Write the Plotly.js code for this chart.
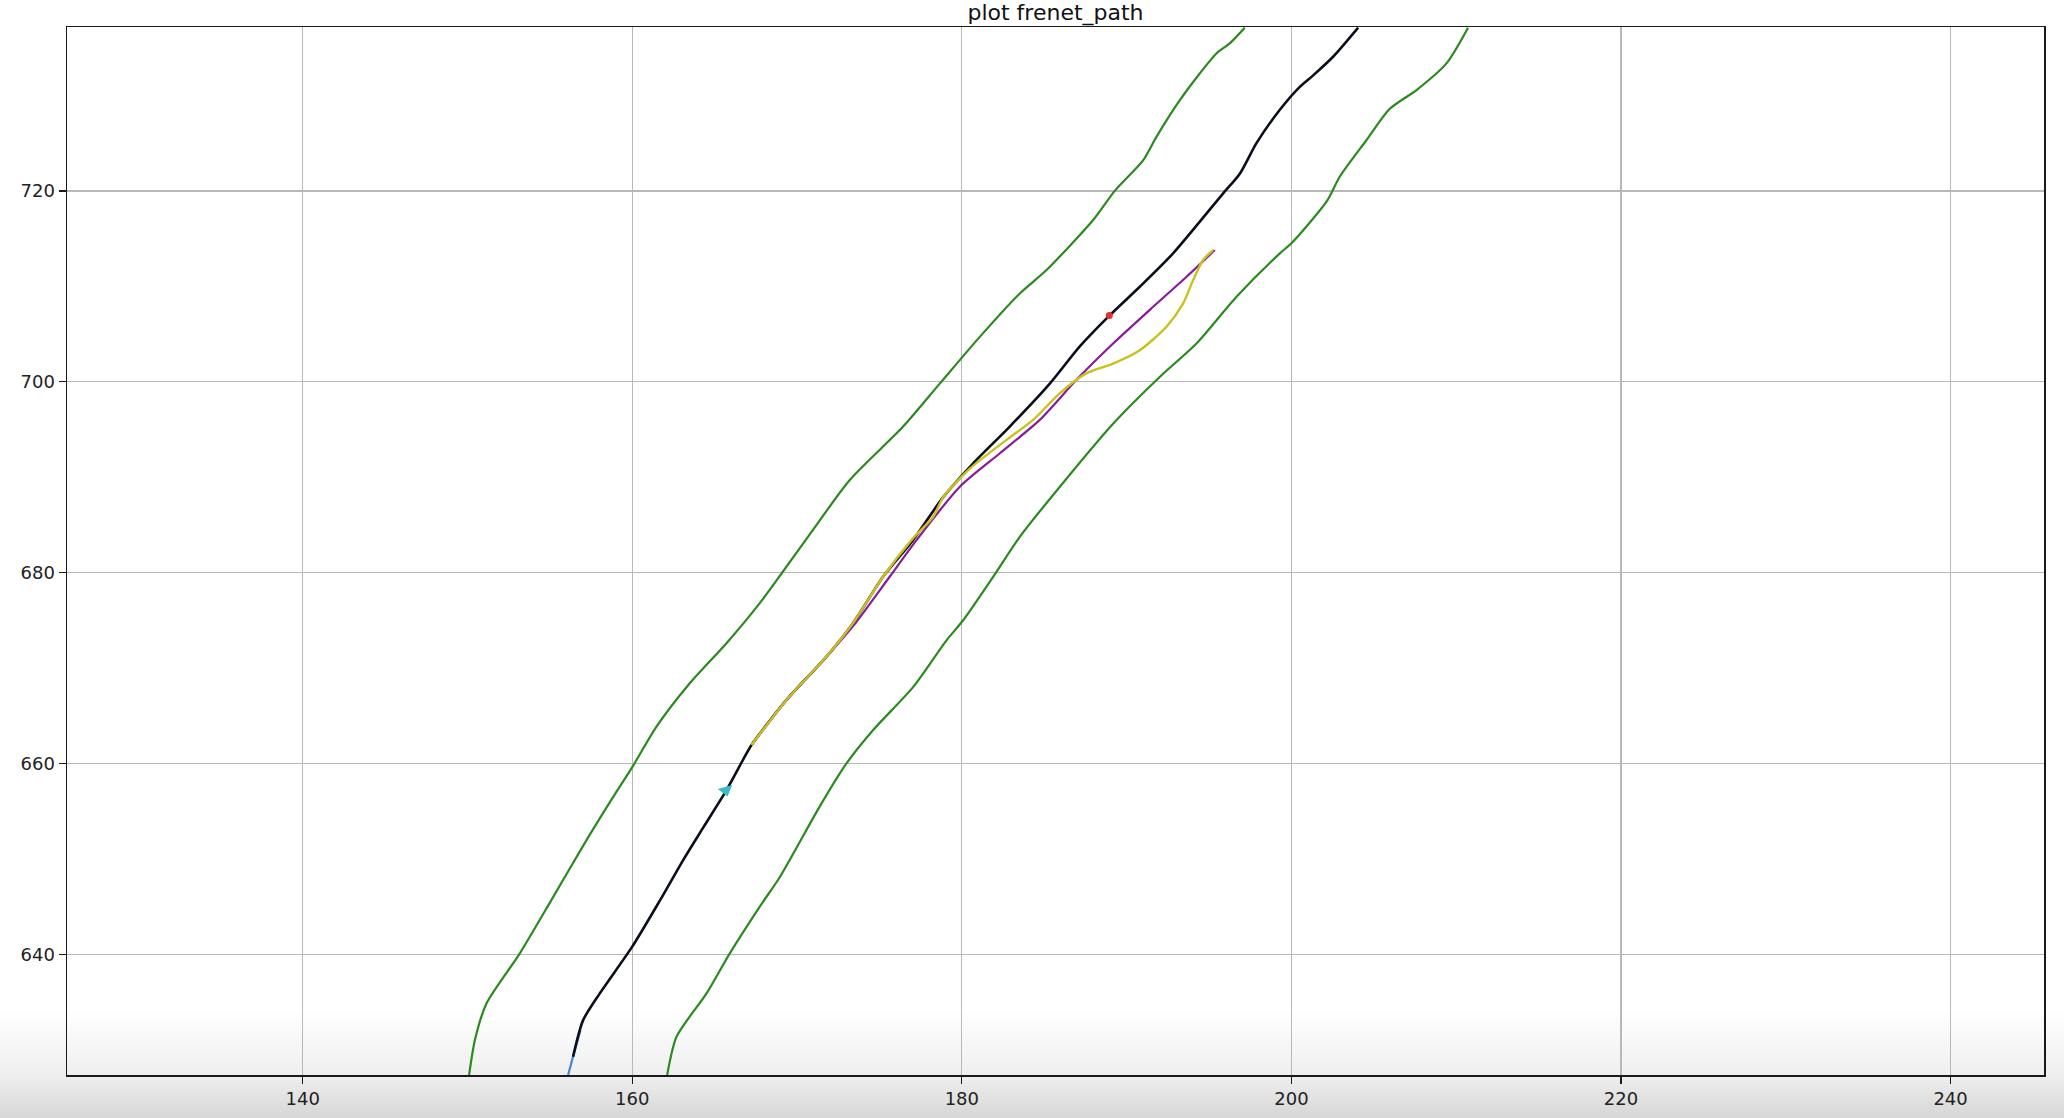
<!DOCTYPE html>
<html>
<head>
<meta charset="utf-8">
<script src="https://cdn.plot.ly/plotly-3.0.1.min.js"></script>
<style>
  html, body { margin: 0; padding: 0; }
  body {
    width: 2064px; height: 1118px; overflow: hidden;
    background: linear-gradient(to bottom, #ffffff 0px, #ffffff 1010px, #efefef 1075px, #d6d6d6 1118px);
  }
  #chart { width: 2064px; height: 1118px; }
</style>
</head>
<body>
<div id="chart"></div>
<script>
// ---- data ----
const leftBoundX  = [150.10, 150.45, 151.16, 153.18, 155.10, 157.10, 158.74, 160.02, 161.47, 163.49, 165.72, 167.74, 169.06, 170.98, 173.20, 176.44, 178.66, 181.09, 183.52, 185.14, 187.97, 189.28, 191.00, 191.81, 193.23, 194.44, 195.45, 196.26, 197.17];
const leftBoundY  = [627.35, 631.00, 634.87, 640.10, 645.70, 651.60, 656.20, 659.66, 663.85, 668.40, 672.60, 676.80, 679.90, 684.50, 689.70, 695.30, 699.80, 704.70, 709.25, 711.70, 716.94, 720.00, 723.20, 725.66, 729.50, 732.30, 734.40, 735.45, 737.10];

const rightBoundX = [162.12, 162.69, 164.51, 165.92, 167.74, 168.96, 171.38, 173.00, 174.62, 177.04, 179.07, 180.08, 181.90, 183.52, 185.95, 189.18, 192.01, 194.24, 196.67, 199.30, 200.00, 202.13, 202.94, 204.55, 205.97, 207.59, 209.41, 210.72];
const rightBoundY = [627.35, 631.37, 635.90, 640.10, 645.00, 648.10, 655.50, 660.00, 663.50, 668.00, 672.90, 675.00, 679.56, 683.75, 689.00, 695.60, 700.50, 704.00, 708.90, 713.45, 714.50, 718.86, 721.50, 725.30, 728.60, 730.56, 733.36, 737.10];

const refPathX = [156.41, 157.02, 158.03, 160.00, 161.70, 163.10, 164.35, 165.72, 166.73, 167.24, 169.36, 171.79, 173.40, 175.22, 177.04, 178.87, 180.69, 182.91, 185.34, 187.16, 188.94, 190.80, 192.82, 195.86, 196.87, 197.88, 199.30, 200.51, 201.32, 202.53, 204.05];
const refPathY = [629.27, 633.10, 635.90, 640.80, 645.70, 649.90, 653.40, 657.20, 660.40, 661.93, 666.65, 671.20, 674.70, 679.56, 683.40, 687.90, 691.45, 695.30, 699.80, 703.70, 706.90, 709.95, 713.45, 719.74, 721.80, 725.00, 728.50, 730.90, 732.10, 734.05, 737.10];

const historyX = [156.11, 156.41, 156.85];
const historyY = [627.35, 629.30, 632.00];

const candidateX = [167.24, 169.36, 171.79, 173.50, 175.62, 177.25, 179.88, 182.31, 184.73, 186.96, 189.18, 191.61, 193.64, 195.35];
const candidateY = [661.93, 666.65, 671.20, 674.60, 679.56, 683.40, 689.00, 692.50, 696.00, 700.20, 704.00, 707.85, 711.00, 713.80];

const frenetX = [167.24, 169.36, 171.79, 173.40, 175.22, 176.94, 178.26, 178.87, 180.49, 182.71, 184.33, 185.95, 187.57, 189.18, 190.80, 192.42, 193.43, 194.04, 194.64, 195.25];
const frenetY = [661.93, 666.65, 671.20, 674.70, 679.56, 683.40, 685.85, 687.90, 690.90, 693.90, 696.00, 698.80, 700.90, 701.90, 703.30, 705.76, 708.20, 710.65, 712.75, 713.80];

const targetX = [188.95];
const targetY = [706.95];

const egoX = [165.68];
const egoY = [657.20];

const xTicks = [140, 160, 180, 200, 220, 240];
const yTicks = [640, 660, 680, 700, 720];

const titleText = "plot frenet_path";

// ---- traces ----
const lw = 2.2;
const sm = 0.7;
const traces = [
  {x: leftBoundX, y: leftBoundY, mode: 'lines', line: {color: '#2b8a1f', width: lw, shape: 'spline', smoothing: sm}},
  {x: rightBoundX, y: rightBoundY, mode: 'lines', line: {color: '#2b8a1f', width: lw, shape: 'spline', smoothing: sm}},
  {x: historyX, y: historyY, mode: 'lines', line: {color: '#4a86c8', width: lw, shape: 'spline', smoothing: sm}},
  {x: refPathX, y: refPathY, mode: 'lines', line: {color: '#0b0f1c', width: 2.6, shape: 'spline', smoothing: sm}},
  {x: candidateX, y: candidateY, mode: 'lines', line: {color: '#8a1a9a', width: lw, shape: 'spline', smoothing: sm}},
  {x: frenetX, y: frenetY, mode: 'lines', line: {color: '#c9c21c', width: 2.4, shape: 'spline', smoothing: sm}},
  {x: targetX, y: targetY, mode: 'markers', marker: {color: '#e8302a', size: 7, symbol: 'circle'}},
  {x: egoX, y: egoY, mode: 'markers', marker: {color: '#3bbccc', size: 13, symbol: 'triangle-down', angle: -15}}
];

const axisCommon = {
  showgrid: true, gridcolor: '#b8b8b8', gridwidth: 1.3,
  zeroline: false,
  showline: true, linecolor: '#1a1a1a', linewidth: 1.5, mirror: true,
  ticks: 'outside', ticklen: 7, tickwidth: 1.3, tickcolor: '#1a1a1a',
  tickfont: {family: 'DejaVu Sans', size: 18, color: '#222222'},
  fixedrange: true
};

const layout = {
  width: 2064, height: 1118,
  margin: {l: 67, r: 20, t: 27, b: 43, pad: 0},
  paper_bgcolor: 'rgba(0,0,0,0)',
  plot_bgcolor: 'rgba(0,0,0,0)',
  showlegend: false,
  title: {
    text: titleText,
    font: {family: 'DejaVu Sans', size: 22, color: '#111111'},
    xref: 'paper', x: 0.5, xanchor: 'center',
    yref: 'container', y: 1 - 12 / 1118, yanchor: 'middle', pad: {t: 0, b: 0}
  },
  xaxis: Object.assign({}, axisCommon, {
    range: [125.7, 245.67], tickmode: 'array', tickvals: xTicks, ticktext: xTicks.map(String)
  }),
  yaxis: Object.assign({}, axisCommon, {
    range: [627.35, 737.17], tickmode: 'array', tickvals: yTicks, ticktext: yTicks.map(String)
  })
};

Plotly.newPlot('chart', traces, layout, {displayModeBar: false, staticPlot: true});
</script>
</body>
</html>
